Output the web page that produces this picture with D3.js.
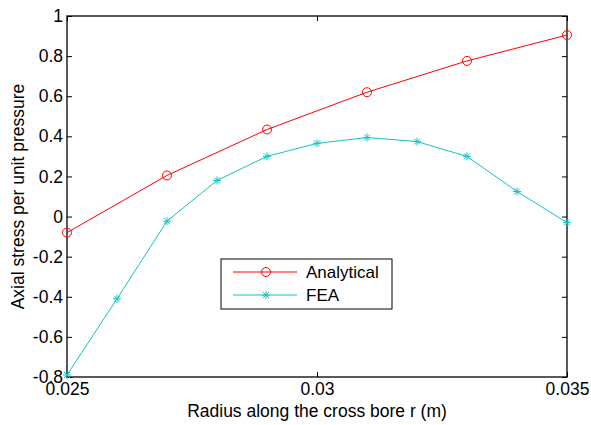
<!DOCTYPE html>
<html><head><meta charset="utf-8">
<script src="https://cdn.jsdelivr.net/npm/d3@7"></script>
<style>body{margin:0;background:#fff}svg{display:block}text{font-family:"Liberation Sans",Arial,sans-serif}</style>
</head><body>
<script>
const analyticalX = [0.025,0.027,0.029,0.031,0.033,0.035];
const analyticalY = [-0.08,0.205,0.434,0.62,0.776,0.905];
const feaX = [0.025,0.026,0.027,0.028,0.029,0.030,0.031,0.032,0.033,0.034,0.035];
const feaY = [-0.79,-0.41,-0.023,0.18,0.30,0.365,0.394,0.374,0.30,0.125,-0.03];
const xTicks = [0.025,0.03,0.035];
const yTicks = [-0.8,-0.6,-0.4,-0.2,0,0.2,0.4,0.6,0.8,1];
const seriesNames = ["Analytical","FEA"];

const W=591,H=425, L=67,R=567,T=16,B=377, FS=17.5;
const svg=d3.select("body").append("svg").attr("width",W).attr("height",H);
const x=d3.scaleLinear().domain([0.025,0.035]).range([L,R]);
const y=d3.scaleLinear().domain([-0.8,1]).range([B,T]);
const fmtY=d => d===0?"0":String(+d.toFixed(1));
const fmtX=d => String(+d.toFixed(3));

const ax=(g)=>g.call(s=>s.select(".domain").remove()).call(s=>s.selectAll("text").attr("font-size",FS).attr("fill","#000")).call(s=>s.selectAll("line").attr("stroke","#000"));
svg.append("g").attr("transform",`translate(0,${B})`).call(d3.axisBottom(x).tickValues(xTicks).tickFormat(fmtX).tickSize(-5).tickPadding(6)).call(ax);
svg.append("g").attr("transform",`translate(0,${T})`).call(d3.axisTop(x).tickValues(xTicks).tickFormat("").tickSize(-5)).call(ax);
svg.append("g").attr("transform",`translate(${L},0)`).call(d3.axisLeft(y).tickValues(yTicks).tickFormat(fmtY).tickSize(-5).tickPadding(4)).call(ax);
svg.append("g").attr("transform",`translate(${R},0)`).call(d3.axisRight(y).tickValues(yTicks).tickFormat("").tickSize(-5)).call(ax);
svg.append("rect").attr("x",L).attr("y",T).attr("width",R-L).attr("height",B-T).attr("fill","none").attr("stroke","#000").attr("stroke-width",1.3);

const red="#ff0000", cyan="#14c4c4";
const line=d3.line();
const aPts=analyticalX.map((v,i)=>[x(v),y(analyticalY[i])]);
const fPts=feaX.map((v,i)=>[x(v),y(feaY[i])]);
svg.append("path").attr("d",line(aPts)).attr("fill","none").attr("stroke",red).attr("stroke-width",1);
svg.append("path").attr("d",line(fPts)).attr("fill","none").attr("stroke",cyan).attr("stroke-width",1);
function circ(g,px,py){g.append("circle").attr("cx",px).attr("cy",py).attr("r",4.5).attr("fill","none").attr("stroke",red).attr("stroke-width",1);}
function star(g,px,py){const s=4;const d=`M${px-s},${py}H${px+s}M${px},${py-s}V${py+s}M${px-s*0.75},${py-s*0.75}L${px+s*0.75},${py+s*0.75}M${px-s*0.75},${py+s*0.75}L${px+s*0.75},${py-s*0.75}`;g.append("path").attr("d",d).attr("stroke",cyan).attr("stroke-width",1).attr("fill","none");}
aPts.forEach(p=>circ(svg,p[0],p[1]));
fPts.forEach(p=>star(svg,p[0],p[1]));

// legend
const lg=svg.append("g");
lg.append("rect").attr("x",221).attr("y",259).attr("width",171).attr("height",50).attr("fill","#fff").attr("stroke","#000").attr("stroke-width",1);
const rows=[{n:seriesNames[0],c:red,m:circ,yy:272},{n:seriesNames[1],c:cyan,m:star,yy:295}];
rows.forEach(r=>{
  lg.append("line").attr("x1",233).attr("x2",297).attr("y1",r.yy).attr("y2",r.yy).attr("stroke",r.c);
  r.m(lg,266,r.yy);
  lg.append("text").attr("x",306).attr("y",r.yy+6).attr("font-size",17).text(r.n);
});

svg.append("text").attr("x",(L+R)/2).attr("y",417).attr("text-anchor","middle").attr("font-size",FS).text("Radius along the cross bore r (m)");
svg.append("text").attr("transform",`translate(24,${(T+B)/2}) rotate(-90)`).attr("text-anchor","middle").attr("font-size",FS).text("Axial stress per unit pressure");
</script>
</body></html>
